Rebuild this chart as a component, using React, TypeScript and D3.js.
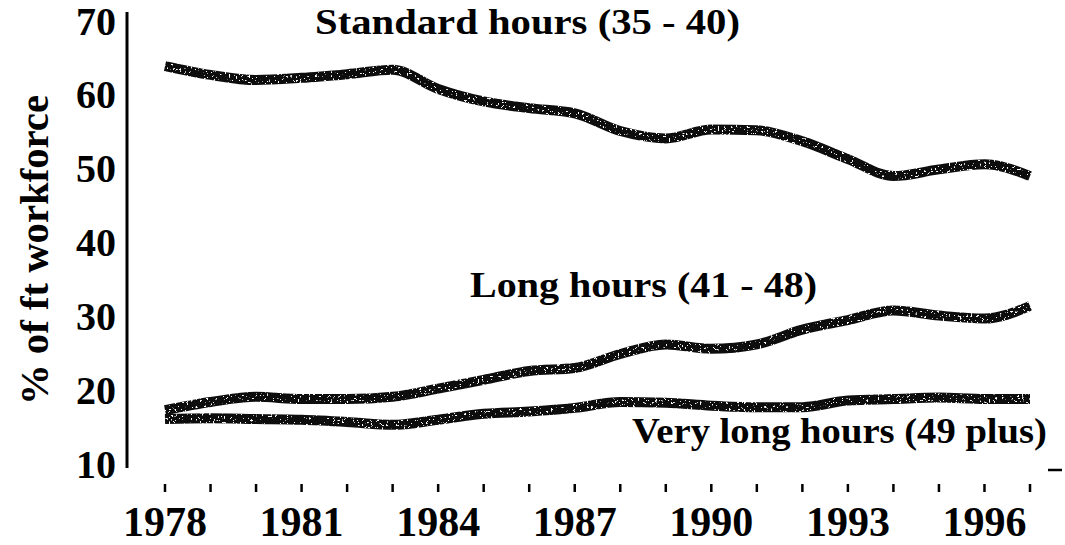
import React from "react";
import { scaleLinear, line, curveMonotoneX } from "d3";

// years on the x axis
const years = [
  1978, 1979, 1980, 1981, 1982, 1983, 1984, 1985, 1986, 1987,
  1988, 1989, 1990, 1991, 1992, 1993, 1994, 1995, 1996, 1997,
];
const yearLabels = [1978, 1981, 1984, 1987, 1990, 1993, 1996];
const yTicks = [10, 20, 30, 40, 50, 60, 70];

// % of full-time workforce
const standardHours = [
  63.9, 62.7, 62.0, 62.3, 62.8, 63.4, 60.8, 59.1, 58.2, 57.5,
  55.1, 54.1, 55.3, 55.2, 53.7, 51.3, 49.0, 49.9, 50.6, 49.0,
];
const longHours = [
  17.3, 18.4, 19.1, 18.8, 18.8, 19.1, 20.2, 21.4, 22.6, 23.0,
  24.9, 26.2, 25.6, 26.2, 28.2, 29.5, 30.8, 30.1, 29.7, 31.4,
];
const veryLongHours = [
  16.1, 16.2, 16.1, 16.0, 15.7, 15.3, 16.0, 16.8, 17.1, 17.6,
  18.4, 18.3, 17.9, 17.7, 17.7, 18.6, 18.8, 19.0, 18.8, 18.8,
];

const seriesNames = [
  "Standard hours (35 - 40)",
  "Long hours (41 - 48)",
  "Very long hours (49 plus)",
];

const W = 1065;
const H = 545;
const FONT = '"Liberation Serif", "Times New Roman", serif';

function App() {
  const x = scaleLinear().domain([1978, 1997]).range([165, 1030]);
  const y = scaleLinear().domain([10, 70]).range([464, 21]);

  const path = line<number>()
    .x((d, i) => x(years[i]))
    .y(d => y(d))
    .curve(curveMonotoneX);

  const allSeries = [standardHours, longHours, veryLongHours];

  return (
    <svg
      width={W}
      height={H}
      style={{ position: "absolute", left: 0, top: 0, background: "#fff", fontFamily: FONT, fontWeight: 700 }}
    >
      <defs>
        {/* sparse photocopy specks on the thick lines */}
        <filter id="grain" filterUnits="userSpaceOnUse" x={0} y={0} width={W} height={H}>
          <feTurbulence type="fractalNoise" baseFrequency="0.45" numOctaves={2} seed={4} result="noise" />
          <feColorMatrix
            in="noise"
            type="matrix"
            values="0 0 0 0 1  0 0 0 0 1  0 0 0 0 1  18 0 0 0 -11.8"
            result="specks"
          />
          <feComposite in="specks" in2="SourceGraphic" operator="in" result="lineSpecks" />
          <feMerge>
            <feMergeNode in="SourceGraphic" />
            <feMergeNode in="lineSpecks" />
          </feMerge>
        </filter>
      </defs>

      {/* y axis line */}
      <line x1={127} x2={127} y1={12} y2={468} stroke="#000" strokeWidth={3} />

      {/* y tick labels */}
      {yTicks.map(t => (
        <text key={t} x={116} y={y(t)} textAnchor="end" dominantBaseline="central" fontSize={40}>
          {t}
        </text>
      ))}

      {/* y axis title */}
      <text
        transform={`translate(34,250) rotate(-90)`}
        textAnchor="middle"
        dominantBaseline="central"
        fontSize={40}
        textLength={310}
        lengthAdjust="spacingAndGlyphs"
      >
        % of ft workforce
      </text>

      {/* x ticks */}
      {years.map(yr => (
        <line key={yr} x1={x(yr)} x2={x(yr)} y1={484} y2={492} stroke="#000" strokeWidth={2.5} />
      ))}
      <line x1={1048} x2={1062} y1={470} y2={470} stroke="#000" strokeWidth={2.5} />

      {/* x labels */}
      {yearLabels.map(yr => (
        <text key={yr} x={x(yr)} y={536} textAnchor="middle" fontSize={42}>
          {yr}
        </text>
      ))}

      {/* series lines */}
      <g filter="url(#grain)">
        {allSeries.map((s, i) => (
          <path
            key={i}
            d={path(s) || ""}
            fill="none"
            stroke="#111"
            strokeWidth={10}
            strokeLinejoin="round"
          />
        ))}
      </g>

      {/* series labels */}
      <text x={315} y={34} fontSize={36} textLength={425} lengthAdjust="spacingAndGlyphs">
        {seriesNames[0]}
      </text>
      <text x={470} y={297} fontSize={36} textLength={347} lengthAdjust="spacingAndGlyphs">
        {seriesNames[1]}
      </text>
      <text x={632} y={443} fontSize={36} textLength={415} lengthAdjust="spacingAndGlyphs">
        {seriesNames[2]}
      </text>
    </svg>
  );
}

export default App;
